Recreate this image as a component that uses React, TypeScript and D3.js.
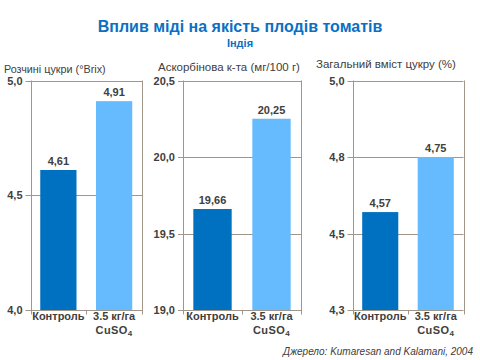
import React from "react";
import * as d3 from "d3";

const categories = ["Контроль", "3.5 кг/га"];
const categorySecondLine = ["", "CuSO"];
const panelTitles = [
  "Розчині цукри (°Brix)",
  "Аскорбінова к-та (мг/100 г)",
  "Загальний вміст цукру (%)",
];
const sugarValues = [4.61, 4.91];
const ascorbicValues = [19.66, 20.25];
const totalSugarValues = [4.57, 4.75];
const sugarLabels = ["4,61", "4,91"];
const ascorbicLabels = ["19,66", "20,25"];
const totalSugarLabels = ["4,57", "4,75"];
const sugarTicks = [4.0, 4.5, 5.0];
const ascorbicTicks = [19.0, 19.5, 20.0, 20.5];
const totalSugarTicks = [4.25, 4.5, 4.75, 5.0];
const sugarTickLabels = ["4,0", "4,5", "5,0"];
const ascorbicTickLabels = ["19,0", "19,5", "20,0", "20,5"];
const totalSugarTickLabels = ["4,3", "4,5", "4,8", "5,0"];

const FONT = "'Liberation Sans', Arial, sans-serif";
const TEXT = "#404040";
const AXIS = "#a0968a";
const BAR_COLORS = ["#0070c0", "#66bbff"];
const BLUE = "#0a70c4";

const panels = [
  { values: sugarValues, labels: sugarLabels, ticks: sugarTicks, tickLabels: sugarTickLabels, x0: 30.5, x1: 142, tx: 4, ty: 72.5, tfs: 10.8 },
  { values: ascorbicValues, labels: ascorbicLabels, ticks: ascorbicTicks, tickLabels: ascorbicTickLabels, x0: 183, x1: 301, tx: 158, ty: 70.5, tfs: 11.5 },
  { values: totalSugarValues, labels: totalSugarLabels, ticks: totalSugarTicks, tickLabels: totalSugarTickLabels, x0: 352.5, x1: 463.5, tx: 316, ty: 68, tfs: 11.5 },
];

const Y0 = 80.5;
const Y1 = 310;

function Panel({ p, title }: { p: any; title: string }) {
  const y = d3
    .scaleLinear()
    .domain([p.ticks[0], p.ticks[p.ticks.length - 1]])
    .range([Y1, Y0]);
  const x = d3
    .scaleBand<string>()
    .domain(categories)
    .range([p.x0, p.x1])
    .paddingInner(0.35)
    .paddingOuter(0.175);
  const xl = Math.round(p.x0) + 0.5;
  const xr = Math.round(p.x1) + 0.5;
  const xm = Math.round((p.x0 + p.x1) / 2) + 0.5;
  const yb = Math.round(Y1) + 0.5;
  return (
    <g>
      <text x={p.tx} y={p.ty} fontSize={p.tfs} fill={TEXT} fontFamily={FONT}>
        {title}
      </text>
      {p.ticks.map((t: number, i: number) => (
        <g key={i}>
          <line
            x1={p.x0 - 5}
            x2={p.x1}
            y1={Math.round(y(t)) + 0.5}
            y2={Math.round(y(t)) + 0.5}
            stroke={AXIS}
            strokeWidth={1}
          />
          <text
            x={p.x0 - 8}
            y={y(t) + 4}
            textAnchor="end"
            fontSize={11}
            fontWeight="bold"
            fill={TEXT}
            fontFamily={FONT}
          >
            {p.tickLabels[i]}
          </text>
        </g>
      ))}
      {p.values.map((v: number, i: number) => (
        <g key={i}>
          <rect
            x={x(categories[i])}
            width={x.bandwidth()}
            y={y(v)}
            height={Y1 - y(v)}
            fill={BAR_COLORS[i]}
          />
          <text
            x={(x(categories[i]) as number) + x.bandwidth() / 2}
            y={y(v) - 5}
            textAnchor="middle"
            fontSize={11}
            fontWeight="bold"
            fill={TEXT}
            fontFamily={FONT}
          >
            {p.labels[i]}
          </text>
          <text
            x={(x(categories[i]) as number) + x.bandwidth() / 2}
            y={319.5}
            textAnchor="middle"
            fontSize={11}
            fontWeight="bold"
            fill={TEXT}
            fontFamily={FONT}
          >
            {categories[i]}
          </text>
          {categorySecondLine[i] && (
            <text
              x={(x(categories[i]) as number) + x.bandwidth() / 2}
              y={333.5}
              textAnchor="middle"
              fontSize={11}
              fontWeight="bold"
              fill={TEXT}
              fontFamily={FONT}
              letterSpacing={0.4}
            >
              {categorySecondLine[i]}
              <tspan fontSize={8} dy={2}>4</tspan>
            </text>
          )}
        </g>
      ))}
      <line x1={xl} x2={xl} y1={Y0} y2={yb + 4} stroke={AXIS} />
      <line x1={xr} x2={xr} y1={Y0} y2={yb + 4} stroke={AXIS} />
      <line x1={xm} x2={xm} y1={yb} y2={yb + 4} stroke={AXIS} />
    </g>
  );
}

export default function App() {
  return (
    <svg
      width={480}
      height={360}
      style={{ position: "absolute", left: 0, top: 0, background: "#fff" }}
    >
      <rect width={480} height={360} fill="#fff" />
      <text x={240} y={32} textAnchor="middle" fontSize={16} fontWeight="bold" fill={BLUE} fontFamily={FONT}>
        Вплив міді на якість плодів томатів
      </text>
      <text x={240} y={46.5} textAnchor="middle" fontSize={11} fontWeight="bold" fill={BLUE} fontFamily={FONT}>
        Індія
      </text>
      {panels.map((p, i) => (
        <Panel key={i} p={p} title={panelTitles[i]} />
      ))}
      <text x={473} y={355} textAnchor="end" fontSize={10} fontStyle="italic" fill={TEXT} fontFamily={FONT}>
        Джерело: Kumaresan and Kalamani, 2004
      </text>
    </svg>
  );
}
